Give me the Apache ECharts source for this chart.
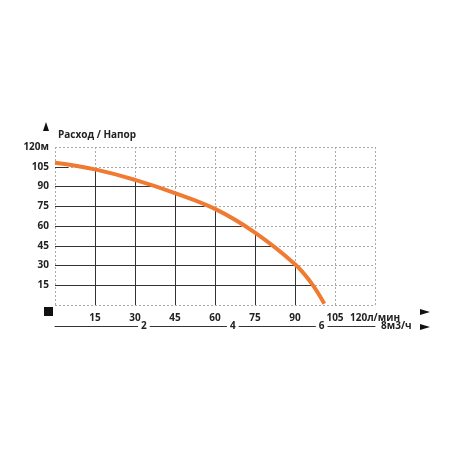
<!DOCTYPE html>
<html><head><meta charset="utf-8">
<script src="https://cdn.jsdelivr.net/npm/echarts@6/dist/echarts.min.js"></script>
<style>html,body{margin:0;background:#fff}#c{width:450px;height:450px}</style>
</head><body><div id="c"></div>
<script>
// кривая расход / напор
const flow = [0, 15, 30, 45, 60, 75, 90, 96, 101];
const head = [108, 103, 95, 85, 73, 55, 31, 17, 1];
// сплошные линии сетки под кривой
const hLevels = [15, 30, 45, 60, 75, 90, 105];
const hEnds = [97, 90, 82, 70, 56, 37, 5];
const vLevels = [15, 30, 45, 60, 75, 90];
const vEnds = [103, 95, 85, 73, 55, 31];

const solid = [];
hLevels.forEach((y, i) => solid.push([{ coord: [0, y] }, { coord: [hEnds[i], y] }]));
vLevels.forEach((x, i) => solid.push([{ coord: [x, 0] }, { coord: [x, vEnds[i]] }]));

const font = 'Open Sans';
const lab = { color: '#222', fontWeight: 'bold', fontSize: 10, fontFamily: font };

const chart = echarts.init(document.getElementById('c'));
chart.setOption({
  animation: false,
  grid: { left: 55, right: 75, top: 147, bottom: 145 },
  xAxis: [{
    type: 'value', min: 0, max: 120, interval: 15,
    axisLine: { show: false }, axisTick: { show: false },
    splitLine: { lineStyle: { color: '#aaa', type: [2, 2] } },
    axisLabel: { ...lab, margin: 8, formatter: v => v === 0 ? '' : v === 120 ? '120л/мин' : v }
  }, {
    type: 'value', min: 0, max: 7.2, interval: 2, position: 'bottom', offset: 21,
    axisLine: { show: true, onZero: false, lineStyle: { color: '#333', width: 1 } }, axisTick: { show: false },
    splitLine: { show: false },
    axisLabel: { ...lab, margin: -5, showMaxLabel: false, backgroundColor: '#fff', padding: [0, 3],
      formatter: v => v === 0 ? '' : v }
  }],
  yAxis: {
    type: 'value', min: 0, max: 120, interval: 15,
    axisLine: { show: false }, axisTick: { show: false },
    splitLine: { lineStyle: { color: '#aaa', type: [2, 2] } },
    axisLabel: { ...lab, margin: 6, formatter: v => v === 0 ? '' : v === 120 ? '120м' : v }
  },
  series: [{
    type: 'line', data: [], xAxisIndex: 0,
    markLine: { silent: true, symbol: 'none', label: { show: false },
      lineStyle: { color: '#333', type: 'solid', width: 1 }, data: solid }
  }, {
    type: 'line', smooth: 0.4, symbol: 'none', xAxisIndex: 0,
    lineStyle: { color: '#f07a32', width: 4 },
    data: flow.map((x, i) => [x, head[i]]), z: 5
  }],
  graphic: [
    { type: 'rect', left: 44, top: 307, shape: { width: 9, height: 9 }, style: { fill: '#111' } },
    { type: 'text', left: 58, top: 130, style: { text: 'Расход / Напор', font: 'bold 10px "Open Sans"', fill: '#222' } },
    { type: 'polygon', shape: { points: [[46, 122], [43, 131], [49, 131]] }, style: { fill: '#111' } },
    { type: 'polygon', shape: { points: [[430, 312], [420, 309], [420, 315]] }, style: { fill: '#111' } },
    { type: 'text', left: 381, top: 321, style: { text: '8м3/ч', font: 'bold 10px "Open Sans"', fill: '#222' } },
    { type: 'polygon', shape: { points: [[430, 327], [420, 324], [420, 330]] }, style: { fill: '#111' } }
  ]
});
</script></body></html>
